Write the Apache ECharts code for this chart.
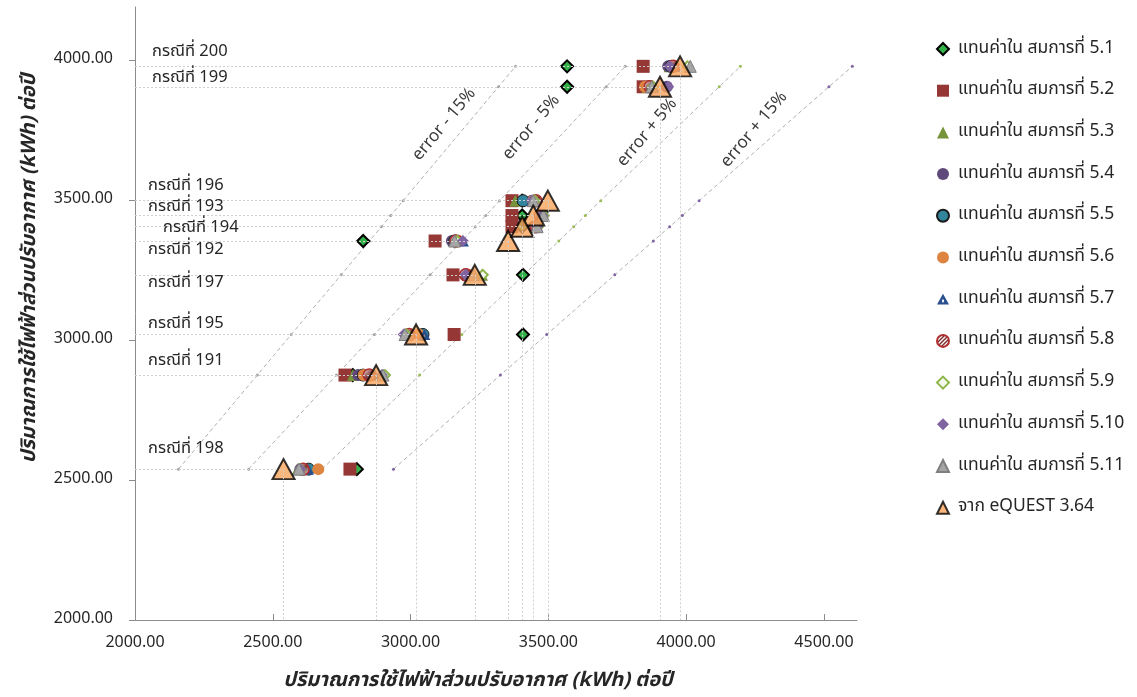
<!DOCTYPE html>
<html>
<head>
<meta charset="utf-8">
<script src="https://cdn.jsdelivr.net/npm/echarts@6/dist/echarts.min.js"></script>
<style>
  html, body { margin: 0; padding: 0; background: #fff; }
  #chart { width: 1137px; height: 697px; }
</style>
</head>
<body>
<div id="chart"></div>
<script>
// Cases (building simulation runs), in the order used by every series below
const caseNames = ['กรณีที่ 191', 'กรณีที่ 192', 'กรณีที่ 193', 'กรณีที่ 194', 'กรณีที่ 195',
                   'กรณีที่ 196', 'กรณีที่ 197', 'กรณีที่ 198', 'กรณีที่ 199', 'กรณีที่ 200'];

// Annual air-conditioning energy from eQUEST 3.64 (kWh) – also the y value of every point
const equest = [2875, 3354, 3445, 3405, 3020, 3498, 3233, 2539, 3905, 3978];

// Values predicted by equations 5.1 – 5.11 (kWh), one per case
const eq51  = [2790, 2828, 3405, 3405, 3408, 3405, 3408, 2805, 3568, 3568];
const eq52  = [2762, 3089, 3368, 3368, 3158, 3368, 3154, 2780, 3844, 3844];
const eq53  = [2791, 3160, 3470, 3450, 2990, 3380, 3259, 2590, 3860, 3940];
const eq54  = [2810, 3150, 3470, 3455, 3040, 3440, 3198, 2600, 3930, 3935];
const eq55  = [2828, 3160, 3480, 3450, 3045, 3408, 3200, 2630, 3870, 3945];
const eq56  = [2830, 3175, 3475, 3455, 3030, 3445, 3210, 2665, 3851, 3950];
const eq57  = [2870, 3190, 3480, 3460, 3050, 3440, 3215, 2628, 3880, 3960];
const eq58  = [2850, 3165, 3470, 3455, 2995, 3455, 3200, 2610, 3869, 3953];
const eq59  = [2907, 3170, 3482, 3462, 2985, 3450, 3262, 2600, 3880, 4005];
const eq510 = [2896, 3190, 3478, 3460, 2975, 3440, 3200, 2600, 3935, 3940];
const eq511 = [2900, 3160, 3482, 3459, 2980, 3445, 3230, 2595, 3875, 4015];

// Error band reference lines (y = eQUEST level, x = value at that error)
const errY       = [2539, 2875, 3020, 3233, 3354, 3405, 3445, 3498, 3905, 3978];
const errMinus15 = [2158, 2444, 2567, 2748, 2851, 2894, 2928, 2973, 3319, 3381];
const errMinus5  = [2412, 2731, 2869, 3071, 3186, 3235, 3273, 3323, 3710, 3779];
const errPlus5   = [2679, 3033, 3186, 3411, 3538, 3592, 3634, 3690, 4120, 4197];
const errPlus15  = [2938, 3326, 3494, 3741, 3881, 3940, 3986, 4047, 4518, 4603];
const errNames   = ['error - 15%', 'error - 5%', 'error + 5%', 'error + 15%'];

// Axis ticks
const axisMin = 2000, tickStep = 500, xMax = 4620, yMax = 4190;

const FONT = 'Tahoma, "Noto Sans Thai", "Leelawadee UI", "Noto Sans", "DejaVu Sans", sans-serif';
const TXT = '#262626';

// hatch fill for equation 5.8
function hatch() {
  const c = document.createElement('canvas');
  c.width = 4; c.height = 4;
  const g = c.getContext('2d');
  g.fillStyle = '#ffffff'; g.fillRect(0, 0, 4, 4);
  g.strokeStyle = '#7a2a2a'; g.lineWidth = 1.4;
  g.beginPath(); g.moveTo(-1, 5); g.lineTo(5, -1); g.stroke();
  g.beginPath(); g.moveTo(-1, 1); g.lineTo(1, -1); g.stroke();
  g.beginPath(); g.moveTo(3, 5); g.lineTo(5, 3); g.stroke();
  return c;
}

const triHole = 'path://M5 0 L10 9 L0 9 Z M5 4.2 L4 6 L5 7.6 L6 6 Z';

const eqDefs = [
  { name: 'แทนค่าใน สมการที่ 5.1',  data: eq51,  symbol: 'diamond', size: 12, style: { color: '#34b24a', borderColor: '#000', borderWidth: 2 } },
  { name: 'แทนค่าใน สมการที่ 5.2',  data: eq52,  symbol: 'rect',    size: 13, style: { color: '#953735' } },
  { name: 'แทนค่าใน สมการที่ 5.3',  data: eq53,  symbol: 'triangle',size: 12, style: { color: '#77933c' } },
  { name: 'แทนค่าใน สมการที่ 5.4',  data: eq54,  symbol: 'circle',  size: 12, style: { color: '#5f497a' } },
  { name: 'แทนค่าใน สมการที่ 5.5',  data: eq55,  symbol: 'circle',  size: 12, style: { color: '#31859c', borderColor: '#1b1b1b', borderWidth: 1 } },
  { name: 'แทนค่าใน สมการที่ 5.6',  data: eq56,  symbol: 'circle',  size: 12, style: { color: '#dd8440' } },
  { name: 'แทนค่าใน สมการที่ 5.7',  data: eq57,  symbol: triHole,   size: [12, 11], style: { color: '#2a4f8f' } },
  { name: 'แทนค่าใน สมการที่ 5.8',  data: eq58,  symbol: 'circle',  size: 12, style: { color: { image: hatch(), repeat: 'repeat' }, borderColor: '#b03030', borderWidth: 1.5 } },
  { name: 'แทนค่าใน สมการที่ 5.9',  data: eq59,  symbol: 'diamond', size: 10, style: { color: '#f4f8ec', borderColor: '#8db54a', borderWidth: 2 } },
  { name: 'แทนค่าใน สมการที่ 5.10', data: eq510, symbol: 'diamond', size: 12, style: { color: '#8064a2' } },
  { name: 'แทนค่าใน สมการที่ 5.11', data: eq511, symbol: 'triangle',size: 12, style: { color: '#a5a5a5', borderColor: '#7f7f7f', borderWidth: 1 } }
];
const equestName = 'จาก eQUEST 3.64';

const series = [];

// error reference lines
const errSets = [errMinus15, errMinus5, errPlus5, errPlus15];
const errDot = ['#a6a6a6', '#a6a6a6', '#9bbb59', '#8064a2'];
errSets.forEach((xs, k) => {
  series.push({
    name: errNames[k], type: 'line', z: 1, silent: true,
    data: xs.map((x, i) => [x, errY[i]]),
    symbol: 'circle', symbolSize: 3, showSymbol: true,
    itemStyle: { color: errDot[k] },
    lineStyle: { color: '#b0b0b0', width: 1, type: [4, 3] },
    animation: false
  });
});

// equation series
eqDefs.forEach(d => {
  series.push({
    name: d.name, type: 'scatter', z: 2,
    symbol: d.symbol, symbolSize: d.size,
    itemStyle: Object.assign({ opacity: 1 }, d.style),
    data: d.data.map((x, i) => [x, equest[i]]),
    animation: false
  });
});

// drop lines from each eQUEST point to both axes
const dropLines = [];
equest.forEach(v => {
  dropLines.push([{ coord: [axisMin, v] }, { coord: [v, v] }]);
  dropLines.push([{ coord: [v, v] }, { coord: [v, axisMin] }]);
});
series.push({
  name: 'drop', type: 'scatter', z: 3, data: [], silent: true,
  markLine: {
    silent: true, symbol: ['none', 'none'], label: { show: false },
    lineStyle: { color: '#cfcfcf', width: 1, type: [2, 2] },
    data: dropLines, animation: false
  }
});

series.push({
  name: equestName, type: 'scatter', z: 4,
  symbol: 'triangle', symbolSize: [22, 20],
  itemStyle: { color: '#f9a55c', borderColor: '#000', borderWidth: 2 },
  data: equest.map(v => [v, v]),
  animation: false
});

const chart = echarts.init(document.getElementById('chart'), null, { renderer: 'canvas' });

const axisCommon = {
  type: 'value', min: axisMin, interval: tickStep,
  axisLine: { show: true, lineStyle: { color: '#8c8c8c', width: 1 } },
  splitLine: { show: false },
  axisLabel: { color: TXT, fontSize: 16, fontFamily: FONT, showMaxLabel: false, formatter: v => v.toFixed(2) },
  nameTextStyle: { color: TXT, fontSize: 20, fontStyle: 'italic', fontWeight: 'bold', fontFamily: FONT }
};

chart.setOption({
  backgroundColor: '#ffffff',
  animation: false,
  textStyle: { fontFamily: FONT },
  grid: { left: 135, right: 280, top: 7, bottom: 77 },
  xAxis: Object.assign({}, axisCommon, {
    max: xMax,
    axisTick: { show: true, inside: true, length: 6, lineStyle: { color: '#8c8c8c' } },
    axisLabel: Object.assign({}, axisCommon.axisLabel, { margin: 16 }),
    name: 'ปริมาณการใช้ไฟฟ้าส่วนปรับอากาศ (kWh) ต่อปี',
    nameLocation: 'middle', nameGap: 52,
    nameTextStyle: Object.assign({}, axisCommon.nameTextStyle, { padding: [0, 36, 0, 0] })
  }),
  yAxis: Object.assign({}, axisCommon, {
    max: yMax,
    axisTick: { show: true, inside: false, length: 6, lineStyle: { color: '#8c8c8c' } },
    axisLabel: Object.assign({}, axisCommon.axisLabel, { margin: 22 }),
    name: 'ปริมาณการใช้ไฟฟ้าส่วนปรับอากาศ (kWh) ต่อปี',
    nameLocation: 'middle', nameGap: 94,
    nameTextStyle: Object.assign({}, axisCommon.nameTextStyle, { padding: [0, 0, 0, 90] })
  }),
  legend: {
    orient: 'vertical', left: 931, top: 35,
    itemWidth: 12, itemHeight: 12, itemGap: 23.7,
    data: eqDefs.map(d => d.name).concat([equestName]),
    textStyle: { color: TXT, fontSize: 17.5, fontFamily: FONT, lineHeight: 16, padding: [0, 0, 0, 4] },
    selectedMode: false
  },
  series: series
});

// Case labels next to the y axis and error-band captions along the dashed lines
const caseLabelOffset = {
  'กรณีที่ 200': [17, -14], 'กรณีที่ 199': [17, -8],  'กรณีที่ 196': [13, -14],
  'กรณีที่ 193': [13, -8],  'กรณีที่ 194': [28, 2],   'กรณีที่ 192': [13, 10],
  'กรณีที่ 197': [13, 9],   'กรณีที่ 195': [13, -10], 'กรณีที่ 191': [13, -13],
  'กรณีที่ 198': [13, -19]
};
const errLabelAt = [[3125, 3768], [3441, 3757], [3862, 3739], [4250, 3750]];

const graphics = [];
caseNames.forEach((n, i) => {
  const p = chart.convertToPixel({ gridIndex: 0 }, [axisMin, equest[i]]);
  const o = caseLabelOffset[n];
  graphics.push({
    type: 'text', x: p[0] + o[0], y: p[1] + o[1], z: 10,
    style: { text: n, fill: TXT, font: '16.5px ' + FONT, textAlign: 'left', textVerticalAlign: 'middle' }
  });
});
errNames.forEach((n, k) => {
  const p = chart.convertToPixel({ gridIndex: 0 }, errLabelAt[k]);
  graphics.push({
    type: 'text', x: p[0], y: p[1], rotation: 50 * Math.PI / 180, z: 10,
    style: { text: n, fill: '#3a3a3a', font: '17px ' + FONT, textAlign: 'center', textVerticalAlign: 'middle' }
  });
});
chart.setOption({ graphic: graphics });
</script>
</body>
</html>
